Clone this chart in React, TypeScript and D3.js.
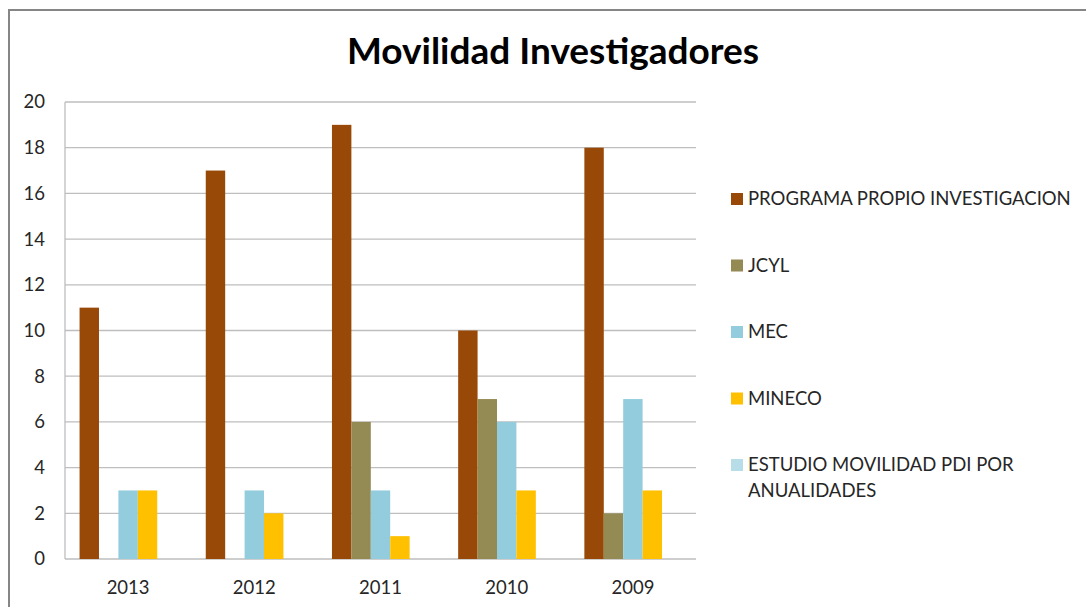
import { useRef, useEffect } from "react";
import * as d3 from "d3";

const years = ["2013", "2012", "2011", "2010", "2009"];
const seriesNames = [
  "PROGRAMA PROPIO INVESTIGACION",
  "JCYL",
  "MEC",
  "MINECO",
  "ESTUDIO MOVILIDAD PDI POR ANUALIDADES",
];
const programaPropio = [11, 17, 19, 10, 18];
const jcyl = [0, 0, 6, 7, 2];
const mec = [3, 3, 3, 6, 7];
const mineco = [3, 2, 1, 3, 3];
const estudio = [0, 0, 0, 0, 0];
const yTicks = [0, 2, 4, 6, 8, 10, 12, 14, 16, 18, 20];
const colors = ["#984807", "#948A54", "#93CDDD", "#FFC000", "#B7DEE8"];

const FONT = "Lato, 'Open Sans', sans-serif";

export default function App() {
  const svgRef = useRef<SVGSVGElement>(null);

  useEffect(() => {
    if (!svgRef.current) return;
    const svg = d3.select(svgRef.current);
    svg.selectAll("*").remove();

    const width = 1086;
    const height = 607;
    const margin = { top: 102, left: 65, right: 390, bottom: 48 };
    const plotW = width - margin.left - margin.right;
    const plotH = height - margin.top - margin.bottom;

    svg.attr("width", width).attr("height", height);

    svg.append("rect")
      .attr("width", width).attr("height", height).attr("fill", "#fff");

    // chart frame
    svg.append("rect")
      .attr("x", 9).attr("y", 10)
      .attr("width", 1200).attr("height", 800)
      .attr("fill", "none").attr("stroke", "#868686").attr("stroke-width", 2);

    svg.append("text")
      .attr("x", 553).attr("y", 64)
      .attr("text-anchor", "middle")
      .attr("font-family", FONT)
      .attr("font-weight", "700")
      .attr("font-size", "37px")
      .attr("fill", "#000")
      .text("Movilidad Investigadores");

    const g = svg.append("g")
      .attr("transform", `translate(${margin.left},${margin.top})`);

    const x0 = d3.scaleBand<string>().domain(years).range([0, plotW]).padding(0);
    const inner = 5 / 6.5;
    const x1 = d3.scaleBand<number>()
      .domain(d3.range(seriesNames.length))
      .range([x0.bandwidth() * (1 - inner) / 2, x0.bandwidth() * (1 + inner) / 2])
      .padding(0);
    const y = d3.scaleLinear().domain([0, 20]).range([plotH, 0]);

    // grid lines
    g.selectAll(".grid")
      .data(yTicks)
      .join("line")
      .attr("x1", 0).attr("x2", plotW)
      .attr("y1", (d) => y(d)).attr("y2", (d) => y(d))
      .attr("stroke", "#BEBEBE").attr("stroke-width", 1.3);

    g.append("line")
      .attr("x1", 0).attr("x2", 0).attr("y1", 0).attr("y2", plotH)
      .attr("stroke", "#BEBEBE").attr("stroke-width", 1.3);

    const allSeries = [programaPropio, jcyl, mec, mineco, estudio];

    allSeries.forEach((vals, si) => {
      g.selectAll(`.bar-${si}`)
        .data(vals.map((v, i) => ({ year: years[i], v })))
        .join("rect")
        .attr("x", (d) => (x0(d.year) ?? 0) + (x1(si) ?? 0))
        .attr("y", (d) => y(d.v))
        .attr("width", x1.bandwidth())
        .attr("height", (d) => plotH - y(d.v))
        .attr("fill", colors[si]);
    });

    // y axis labels
    g.selectAll(".ylab")
      .data(yTicks)
      .join("text")
      .attr("x", -20)
      .attr("y", (d) => y(d))
      .attr("dy", "0.35em")
      .attr("text-anchor", "end")
      .attr("font-family", FONT)
      .attr("font-size", "18.5px")
      .attr("fill", "#262626")
      .text((d) => d);

    // x axis labels
    g.selectAll(".xlab")
      .data(years)
      .join("text")
      .attr("x", (d) => (x0(d) ?? 0) + x0.bandwidth() / 2)
      .attr("y", plotH + 35)
      .attr("text-anchor", "middle")
      .attr("font-family", FONT)
      .attr("font-size", "18.5px")
      .attr("fill", "#262626")
      .text((d) => d);

    // legend
    const legY = d3.scaleLinear().domain([0, 4]).range([199, 465]);
    const leg = svg.append("g");
    seriesNames.forEach((name, i) => {
      const cy = legY(i);
      leg.append("rect")
        .attr("x", 731).attr("y", cy - 6)
        .attr("width", 12).attr("height", 12)
        .attr("fill", colors[i]);
      const t = leg.append("text")
        .attr("x", 748).attr("y", cy)
        .attr("dy", "0.35em")
        .attr("font-family", FONT)
        .attr("font-size", "18.5px")
        .attr("fill", "#262626");
      if (i === 4) {
        t.append("tspan").attr("x", 748).text("ESTUDIO MOVILIDAD PDI POR");
        t.append("tspan").attr("x", 748).attr("dy", "1.4em").text("ANUALIDADES");
      } else {
        t.text(name);
      }
    });
  }, []);

  return (
    <svg
      ref={svgRef}
      style={{ position: "absolute", left: 0, top: 0, display: "block" }}
    />
  );
}
